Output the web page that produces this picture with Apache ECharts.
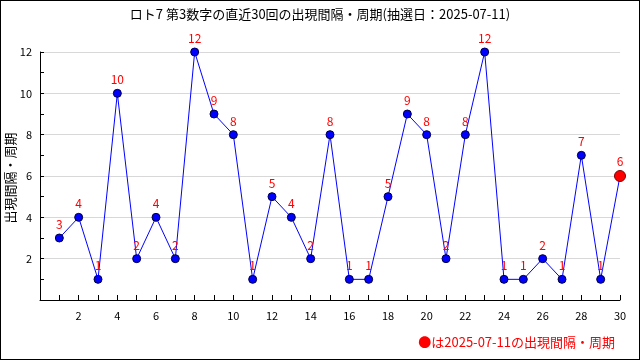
<!DOCTYPE html>
<html>
<head>
<meta charset="utf-8">
<script src="https://cdn.jsdelivr.net/npm/echarts@6/dist/echarts.min.js"></script>
<style>
html,body{margin:0;padding:0;background:#fff;}
#c{width:640px;height:360px;box-sizing:border-box;border:1px solid #000;}
</style>
</head>
<body>
<div id="c"></div>
<script>
var titleText = 'ロト7 第3数字の直近30回の出現間隔・周期(抽選日：2025-07-11)';
var yAxisName = '出現間隔・周期';
var noteText = '●は2025-07-11の出現間隔・周期';
var rounds = [1,2,3,4,5,6,7,8,9,10,11,12,13,14,15,16,17,18,19,20,21,22,23,24,25,26,27,28,29,30];
var intervals = [3,4,1,10,2,4,2,12,9,8,1,5,4,2,8,1,1,5,9,8,2,8,12,1,1,2,1,7,1,6];

var font = '"Noto Sans CJK JP", "DejaVu Sans", sans-serif';
var data = rounds.map(function(r, i){
  var d = {value:[r, intervals[i]]};
  if (i === rounds.length - 1) {
    d.symbolSize = 11;
    d.itemStyle = {color:'#ff0000', borderColor:'#800000', borderWidth:1};
  }
  return d;
});

var chart = echarts.init(document.getElementById('c'), null, {renderer:'canvas'});
chart.setOption({
  animation:false,
  backgroundColor:'#fff',
  textStyle:{fontFamily:font},
  title:[
    {text:titleText, left:'center', top:2, textStyle:{fontSize:13, fontWeight:'normal', color:'#000', fontFamily:font}},
    {text:noteText, right:19, top:330, textStyle:{fontSize:13, fontWeight:'normal', color:'#ff0000', fontFamily:font}}
  ],
  graphic:[{
    type:'text', x:9, y:177, rotation:Math.PI/2,
    style:{text:yAxisName, align:'center', verticalAlign:'middle', fill:'#000',
      font:'13px "Noto Sans CJK JP", sans-serif'}
  }],
  grid:{left:39, right:19, top:51, bottom:59, containLabel:false, outerBoundsMode:'none'},
  xAxis:{
    type:'value', min:0, max:30, interval:2,
    axisLine:{lineStyle:{color:'#000', width:1}},
    axisTick:{show:true, inside:true, length:5, lineStyle:{color:'#000'}},
    minorTick:{show:true, splitNumber:2, length:5, lineStyle:{color:'#000'}},
    axisLabel:{color:'#000', fontSize:11, margin:10, fontFamily:font,
      formatter:function(v){return v===0?'':v;}},
    splitLine:{show:false}
  },
  yAxis:{
    type:'value', min:0, max:12, interval:2,
    axisLine:{show:true, lineStyle:{color:'#000', width:1}},
    axisTick:{show:true, inside:true, length:4, lineStyle:{color:'#000'}},
    minorTick:{show:true, splitNumber:2, length:4, lineStyle:{color:'#000'}},
    axisLabel:{color:'#000', fontSize:11, margin:8, fontFamily:font,
      formatter:function(v){return v===0?'':v;}},
    splitLine:{show:true, lineStyle:{color:'#d8d8d8', width:1}}
  },
  series:[{
    type:'line',
    data:data,
    symbol:'circle',
    symbolSize:8,
    lineStyle:{color:'#0000ff', width:1},
    itemStyle:{color:'#0000ff', borderColor:'#000040', borderWidth:1},
    label:{show:true, position:'top', distance:3, color:'#ff0000', fontSize:12, fontFamily:font,
      formatter:function(p){return p.value[1];}}
  }]
});
</script>
</body>
</html>
